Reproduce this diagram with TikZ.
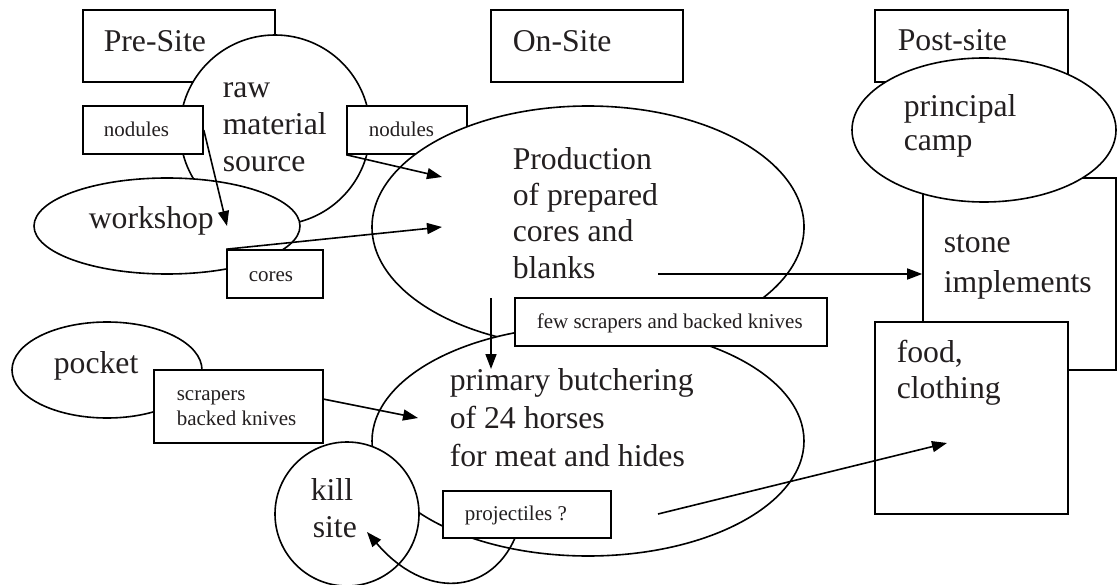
\documentclass[tikz,border=0pt]{standalone}
\usepackage{fontspec}
\setmainfont{Liberation Serif}
\usetikzlibrary{shapes.geometric,arrows.meta}
\definecolor{ink}{RGB}{35,31,32}
\begin{document}
\begin{tikzpicture}[x=1pt,y=-1pt,
  line width=1.6pt,
  shp/.style={draw=black, fill=white, inner sep=0pt},
  rbox/.style n args={2}{shp, rectangle, minimum width=#1pt, minimum height=#2pt},
  ell/.style n args={2}{shp, ellipse, minimum width=#1pt, minimum height=#2pt},
  circ/.style={shp, circle, minimum size=#1pt},
  big/.style={text=ink, inner sep=0pt, anchor=base west, font=\fontsize{31.7}{36}\selectfont},
  small/.style={text=ink, inner sep=0pt, anchor=base west, font=\fontsize{21}{25}\selectfont},
  arr/.style={draw=black, line width=1.6pt, -{Triangle[length=15pt,width=11pt]}}
]
\useasboundingbox (0,0) rectangle (1118,585);
\fill[white] (0,0) rectangle (1118,585);

% header boxes
\node[rbox={192}{72}] (pre) at (179,46) {};
\node[rbox={192}{72}] (on) at (587,46) {};
\node[rbox={193}{72}] (post) at (971.5,46) {};

% pre-site cluster
\node[circ=190] (raw) at (275,130) {};
\node[ell={266}{96}] (work) at (167,226) {};
\node[rbox={120}{48}] (nodL) at (143,130) {};
\node[rbox={120}{48}] (nodR) at (407,130) {};
\node[rbox={96}{48}] (cores) at (275,274) {};

% on-site cluster
\node[ell={432}{242}] (prod) at (588,227) {};
\node[ell={432}{230}] (butch) at (588,441) {};
\node[rbox={312}{48}] (few) at (671,322) {};

% post-site cluster
\node[rbox={193}{192}] (stone) at (1019.5,274) {};
\node[ell={264}{144}] (camp) at (984,130) {};
\node[rbox={193}{192}] (food) at (971.5,418) {};

% lower left
\node[ell={190}{96}] (pocket) at (107,370) {};
\node[rbox={169}{73}] (scr) at (238.5,406.5) {};
\node[circ=144] (kill) at (347,514) {};
\node[rbox={168}{47}] (proj) at (527,514.5) {};

% texts
\node[big] (tPre) at (103,52) {Pre-Site};
\node[big] (tOn) at (512,52) {On-Site};
\node[big] (tPost) at (897,51) {Post-site};
\node[big] (tRaw1) at (222,98) {raw};
\node[big] (tRaw2) at (222,135) {material};
\node[big] (tRaw3) at (222,172) {source};
\node[big] (tWork) at (88,229) {workshop};
\node[small] (tNodL) at (103,137) {nodules};
\node[small] (tNodR) at (368,137) {nodules};
\node[small] (tCores) at (248,281) {cores};
\node[big] (tProd1) at (512,170) {Production};
\node[big] (tProd2) at (512,206) {of prepared};
\node[big] (tProd3) at (512,242) {cores and};
\node[big] (tProd4) at (512,278) {blanks};
\node[small] (tFew) at (536,328) {few scrapers and backed knives};
\node[big] (tBut1) at (449,390) {primary butchering};
\node[big] (tBut2) at (449,428) {of 24 horses};
\node[big] (tBut3) at (449,466) {for meat and hides};
\node[big] (tCamp1) at (903,117) {principal};
\node[big] (tCamp2) at (903,151) {camp};
\node[big] (tStone1) at (943,253) {stone};
\node[big] (tStone2) at (943,292) {implements};
\node[big] (tFood1) at (896,362) {food,};
\node[big] (tFood2) at (896,398) {clothing};
\node[big] (tPocket) at (53,373) {pocket};
\node[small] (tScr1) at (176,400) {scrapers};
\node[small] (tScr2) at (176,425) {backed knives};
\node[big] (tKill1) at (310,500) {kill};
\node[big] (tKill2) at (312,537) {site};
\node[small] (tProj) at (464,520) {projectiles ?};

% connector ends
\coordinate (tipA) at (227,226);
\coordinate (tipB) at (442,177);
\coordinate (tipC) at (442,227);
\coordinate (srcD) at (658,274);
\coordinate (srcE) at (491,298);
\coordinate (tipE) at (491,369);
\coordinate (srcF) at (323,399);
\coordinate (tipF) at (418,418);
\coordinate (srcG) at (658,514);
\coordinate (tipG) at (947,443);
\coordinate (srcH) at (515,538);
\coordinate (tipH) at (367,532);

% connectors
\draw[arr] (nodL.east) -- (tipA);
\draw[arr] (nodR.south west) -- (tipB);
\draw[arr] (cores.north west) -- (tipC);
\draw[arr] (srcD) -- (stone.west);
\draw[arr] (srcE) -- (tipE);
\draw[arr] (srcF) -- (tipF);
\draw[arr] (srcG) -- (tipG);
\draw[arr] (srcH) .. controls (490,595) and (425,600) .. (tipH);
\end{tikzpicture}
\end{document}
